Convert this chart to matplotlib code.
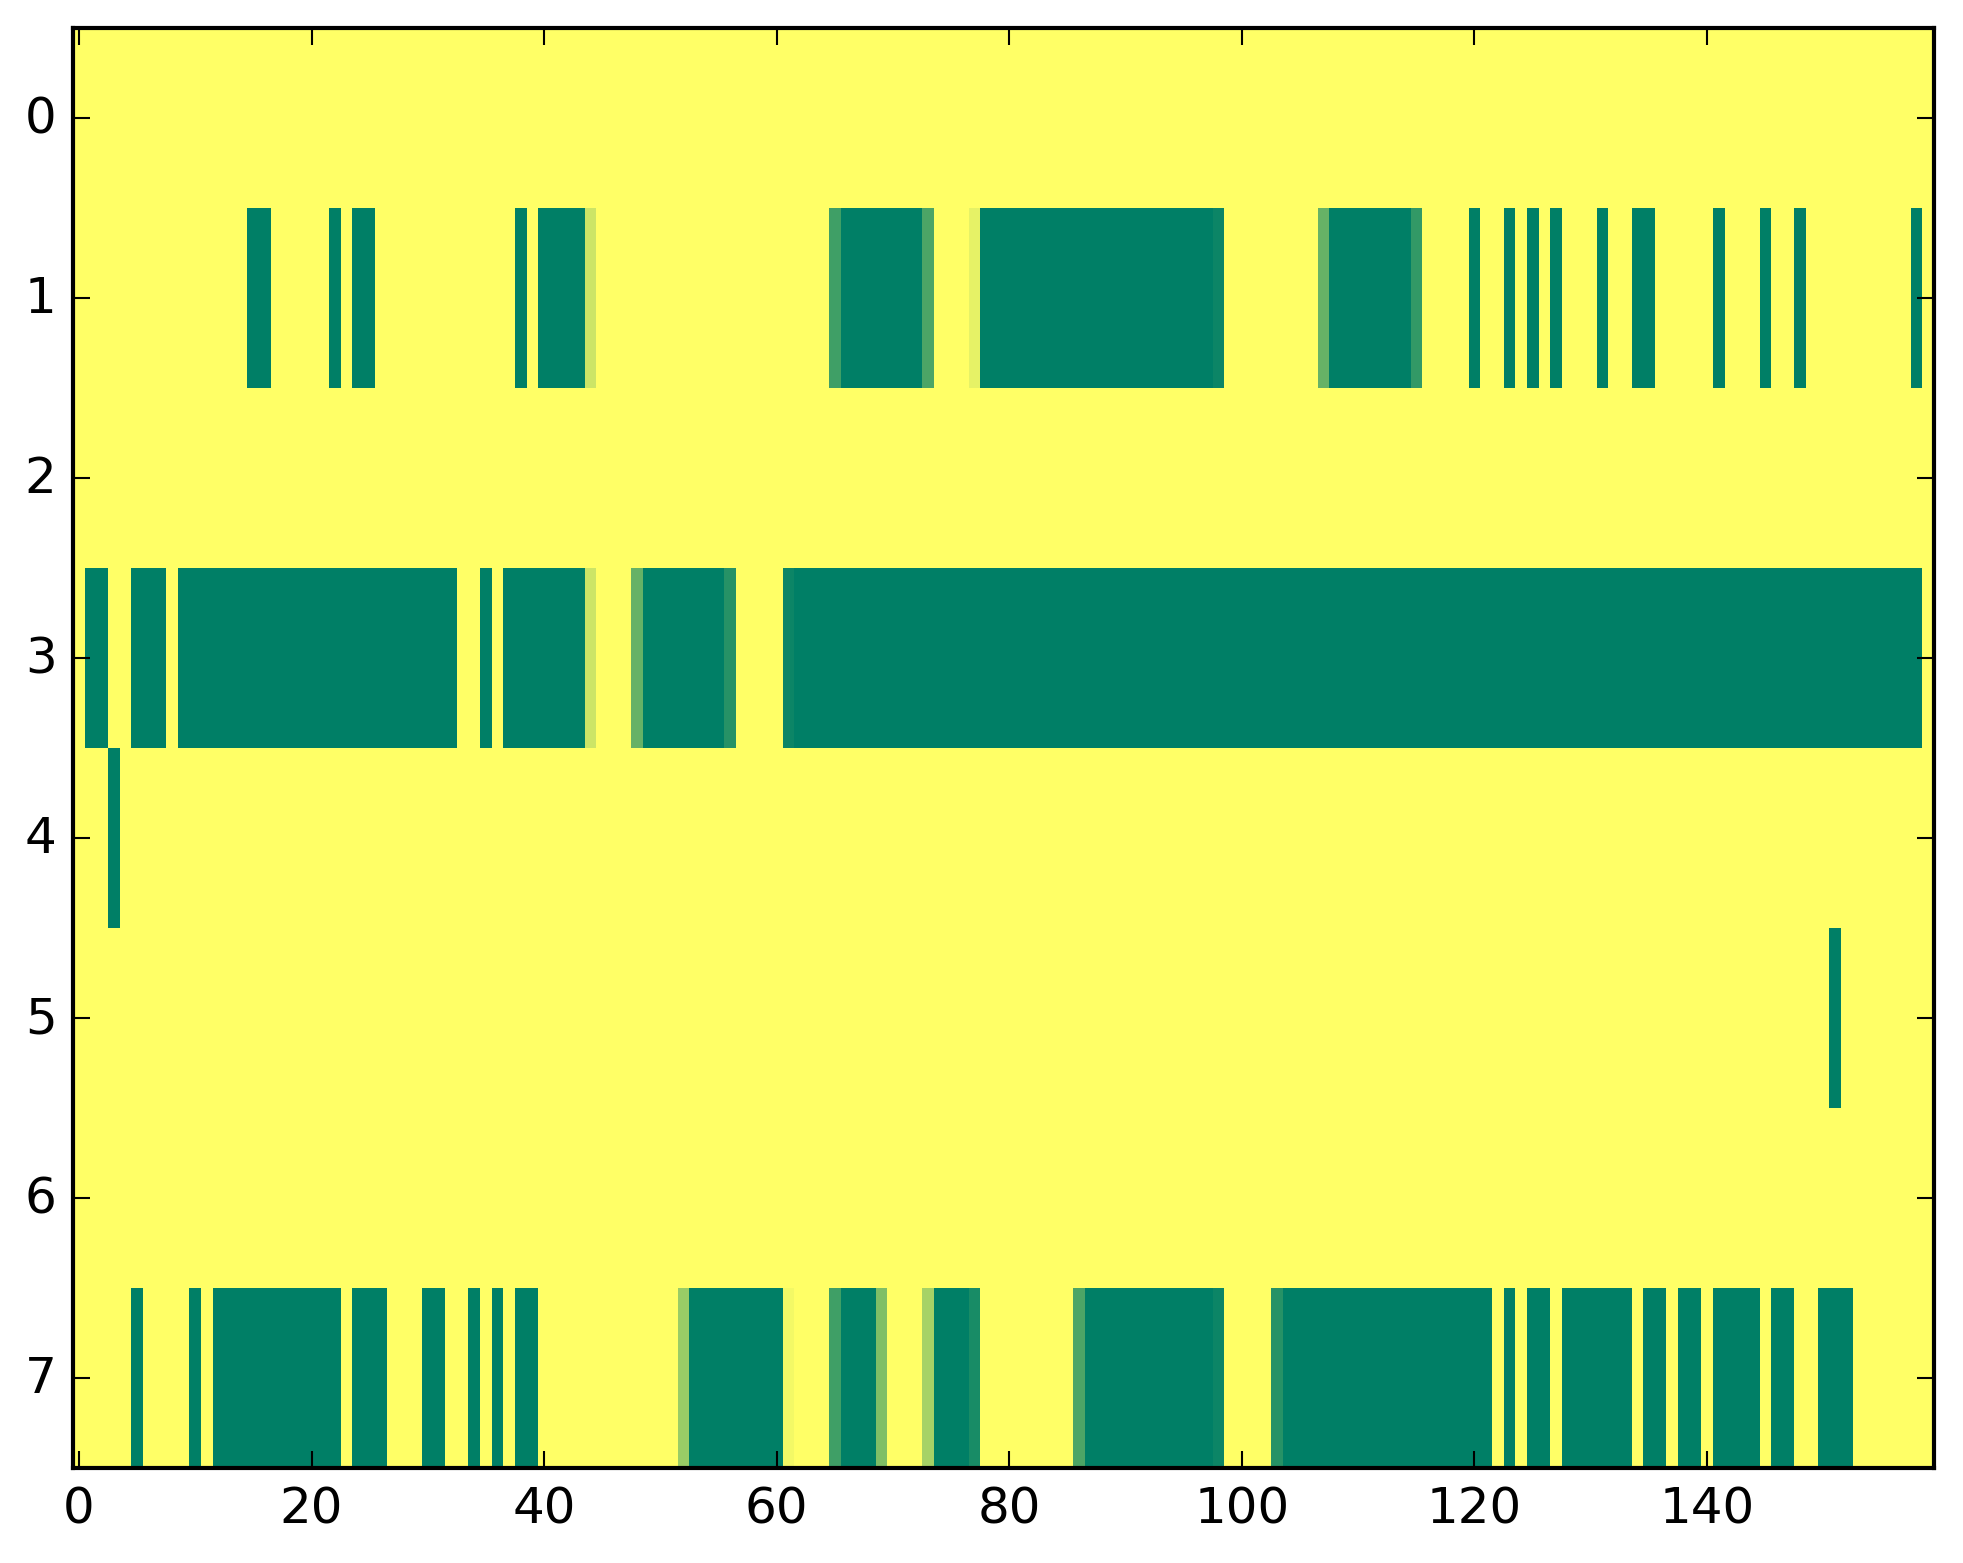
import numpy as np
import matplotlib
matplotlib.use("Agg")
import matplotlib.pyplot as plt

plt.style.use("classic")

# 8 rows x 160 columns, values 0..1
# each row is a list of runs: (first column, last column, value)
n_rows, n_cols = 8, 160

row0 = []
row1 = [(15, 16, 1), (22, 22, 1), (24, 25, 1), (38, 38, 1), (40, 43, 1),
        (44, 44, 0.2), (65, 65, 0.75), (66, 72, 1), (73, 73, 0.7),
        (77, 77, 0.1), (78, 97, 1), (98, 98, 0.95), (107, 107, 0.6),
        (108, 114, 1), (115, 115, 0.8), (120, 120, 1), (123, 123, 1),
        (125, 125, 1), (127, 127, 1), (131, 131, 1), (134, 135, 1),
        (141, 141, 1), (145, 145, 1), (148, 148, 1), (158, 158, 1)]
row2 = []
row3 = [(1, 2, 1), (5, 7, 1), (9, 32, 1), (35, 35, 1), (37, 43, 1),
        (44, 44, 0.2), (48, 48, 0.6), (49, 55, 1), (56, 56, 0.85),
        (61, 61, 0.95), (62, 158, 1)]
row4 = [(3, 3, 1)]
row5 = [(151, 151, 1)]
row6 = []
row7 = [(5, 5, 1), (10, 10, 1), (12, 22, 1), (24, 26, 1), (30, 31, 1),
        (34, 34, 1), (36, 36, 1), (38, 39, 1), (52, 52, 0.4), (53, 60, 1),
        (61, 61, 0.05), (65, 65, 0.75), (66, 68, 1), (69, 69, 0.5),
        (73, 73, 0.35), (74, 76, 1), (77, 77, 0.9), (86, 86, 0.7),
        (87, 97, 1), (98, 98, 0.95), (103, 103, 0.85), (104, 121, 1),
        (123, 123, 1), (125, 126, 1), (128, 133, 1), (135, 136, 1),
        (138, 139, 1), (141, 144, 1), (146, 147, 1), (150, 152, 1)]

rows = [row0, row1, row2, row3, row4, row5, row6, row7]

data = np.zeros((n_rows, n_cols))
for i, runs in enumerate(rows):
    for a, b, v in runs:
        data[i, a:b + 1] = v

fig = plt.figure(figsize=(1963 / 300, 1564 / 300), dpi=300)
ax = fig.add_axes([0.0373, 0.0607, 0.9478, 0.9207])
ax.imshow(data, cmap="summer_r", vmin=0, vmax=1,
          aspect="auto", interpolation="nearest")
ax.set_xticks(range(0, 141, 20))
ax.set_yticks(range(0, 8))

fig.savefig("out.png", dpi=300)
